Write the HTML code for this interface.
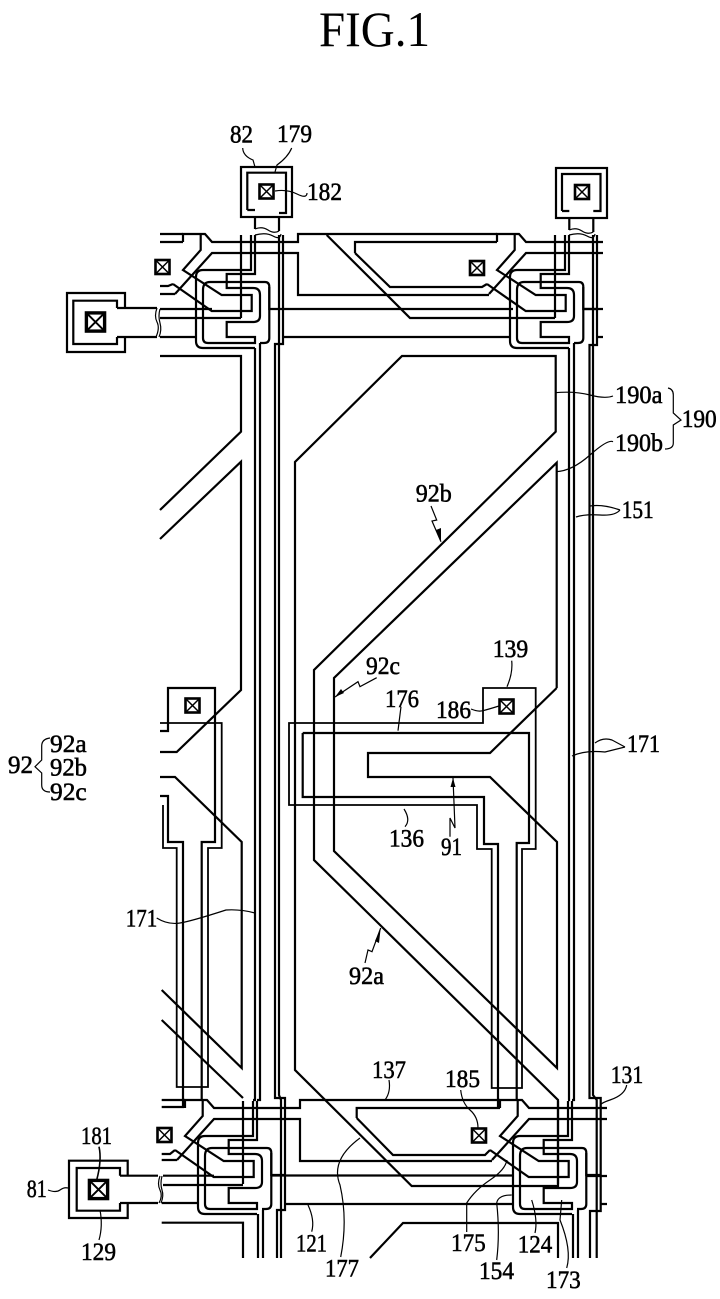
<!DOCTYPE html>
<html><head><meta charset="utf-8"><style>
html,body{margin:0;padding:0;background:#fff}
svg{display:block}
.l{fill:none;stroke:#000;stroke-width:2.2;stroke-linejoin:miter}
.t{fill:none;stroke:#000;stroke-width:1.2}
text{font-family:"Liberation Serif",serif;font-size:25px;fill:#000;stroke:#000;stroke-width:.55}
</style></head><body>
<svg xmlns="http://www.w3.org/2000/svg" width="720" height="1299" viewBox="0 0 720 1299">
<defs>
<g id="tft" class="l">
<path d="M241,235V318"/>
<path d="M251,235V270H203Q196,270 196,277V341Q196,348 203,348H255"/>
<path d="M255,235V274H226.7V288H253Q260,288 260,295V316Q260,322 253,322H226.7V337H255V343H208Q203,343 203,338V290Q203,282 210,282H265Q269.3,282 269.3,287V338Q269.3,343 264,343H260"/>
<path d="M200.7,234V250L183,270L221.7,295H251.7V311H211.7L173,284"/>
<path d="M175,294L212,253H283"/>
<path d="M183,242V234H205L212,242H283"/>
<path d="M269.3,287V309H283"/>
</g>
<g id="sq"><rect x="-7" y="-7" width="14" height="14" fill="none" stroke="#000" stroke-width="2.6"/><path d="M-7,-7L7,7M7,-7L-7,7" stroke="#000" stroke-width="1.5"/></g>
</defs>
<rect width="720" height="1299" fill="#fff"/>
<text x="319" y="46" style="font-size:50px;stroke-width:0" textLength="111" lengthAdjust="spacingAndGlyphs">FIG.1</text>

<!-- TFT clusters -->
<use href="#tft"/>
<use href="#tft" transform="translate(314,0)"/>
<use href="#tft" transform="translate(2,866)"/>
<use href="#tft" transform="translate(317,866)"/>

<g class="l">
<!-- top pads -->
<rect x="241" y="167" width="51" height="50"/>
<path d="M255,217V229M279,217V231M247.3,210V172.7H286V213H279M247.3,210H255"/>
<rect x="556" y="168" width="51" height="50"/>
<path d="M569.3,218V230M593.3,218V232M562,211V174H600.5V211H593.3M562,211H569.3"/>
<!-- left pad upper -->
<path d="M125,308V293H67V352H125V337"/>
<path d="M117,308V300.7H73.3V344H117V337"/>
<path d="M117,308H157M117,337H157"/>
<!-- left pad lower -->
<path d="M127.7,1175V1160.7H69V1218H127.7V1203"/>
<path d="M120,1175.7V1168H76.7V1210.7H120V1203"/>
<path d="M120,1175.7H158M120,1203H158"/>

<!-- columns left -->
<path d="M255,348V1100H253M260,343V1100H257"/>
<path d="M283,235V344H275V1098H285V1210H277V1258"/>
<path d="M279,235V346V1095L281,1100V1258"/>
<path d="M258,1214V1258M263,1210V1258"/>
<!-- columns right -->
<path d="M569,348V1100H568M574,343V1100H572"/>
<path d="M597,235V345H589.5V1098H600.7V1211H590V1258"/>
<path d="M593,235V346V1095L596.7,1100V1258"/>
<path d="M573,1214V1258M578,1210V1258"/>

<!-- top row -->
<path d="M160,234H183M160,242H183"/>
<path d="M283,242H298V234H497"/>
<path d="M283,253H298V295H489"/>
<path d="M355,253V242H497"/>
<path d="M355,253L390,287H482L487,284"/>
<path d="M326.7,235L410,318H555"/>
<path d="M597,242H603M597,253H603"/>
<path d="M160,286H168L173,284M160,294H175"/>
<path d="M241,318H160M160,309H212"/>
<path d="M283,309H513M583,309H603"/>
<path d="M160,337H196M283,337H510M597,337H603"/>
<path d="M160,356H241V431.7L160,510"/>
<path d="M160,539L241,461.7V690L176.7,752H160"/>
<!-- bottom row -->
<path d="M285,1108H300V1100H500M285,1119H300V1161H492"/>
<path d="M356.7,1118V1108H500"/>
<path d="M356.7,1118L393,1155H485L490,1150"/>
<path d="M600,1108H607M600,1119H607"/>
<path d="M161.7,1100H185"/>
<path d="M161.7,1154H170L175,1150M161.7,1160H177"/>
<path d="M163,1185H243M163,1175.7H214"/>
<path d="M271,1175.5H512M586,1176H607"/>
<path d="M285,1204H513M600,1204H607M161.7,1203H198"/>
<path d="M161.7,1222.7H243V1258"/>
<path d="M370,1258L403,1223H558V1258"/>

<!-- neighbor left -->
<path d="M160,731H168V688H215V842H201.7V1100"/>
<path d="M160,723H221.7V848H208V1087H176.7V848H163V805" stroke-width="1.8"/>
<path d="M160,796H168V842H183V1107H161.7"/>
<path d="M160,777H175L241.7,842V1068L161.7,990"/>
<path d="M161.7,1020L243,1098"/>

<!-- centre pixel electrode -->
<path d="M402,356H555.7V431.7L314,670V860L558,1100V1186H411.7L295,1070V462L402,356Z"/>
<path d="M556.7,688V462.7L334,678V851L557,1068V842L490,777H368V753H490L556.7,688"/>
<!-- storage -->
<path d="M535.7,688V849H522V1088H491.7V849H477V805H289V723H483V688H535.7Z" stroke-width="1.8"/>
<path d="M302.7,733H529V843H516.7V1100M498,1108V844H484V797H302.7V733"/>
</g>

<!-- contacts -->
<use href="#sq" transform="translate(266.5,191.5)"/>
<use href="#sq" transform="translate(582,192)"/>
<use href="#sq" transform="translate(162.5,267)"/>
<use href="#sq" transform="translate(477,268)"/>
<use href="#sq" transform="translate(192.5,705.5)"/>
<use href="#sq" transform="translate(506.5,706.5)"/>
<use href="#sq" transform="translate(164.5,1135)"/>
<use href="#sq" transform="translate(479,1135.5)"/>
<use href="#sq" transform="translate(95.5,322) scale(1.3)"/>
<use href="#sq" transform="translate(98.5,1189.5) scale(1.3)"/>

<!-- wave breaks & leaders -->
<g class="t">
<path d="M255,229Q262,226 268,230T279,231M255,235Q266,232 273,236T281,234"/>
<path d="M569.3,230Q576,227 582,231T593.3,232M569,235Q580,232 587,236T595,234"/>
<path d="M157,308Q154,316 157,322T156,337M160,309Q158,316 160,323T159,337"/>
<path d="M160,1176Q157,1184 160,1190T159,1203M162,1176Q160,1184 162,1190T161,1203"/>
<path d="M242.7,148Q243,156 253,160L255,167"/>
<path d="M291.7,148Q288,157 277,165L275,172"/>
<path d="M275,191Q287,189 297,194T307,193"/>
<path d="M555,392.7Q575,391 590,395T613,396"/>
<path d="M556,471.7Q572,471 590,455T613,441.7"/>
<path d="M590,506Q603,504 620,510M576,517Q585,514 600,515T620,510"/>
<path d="M668,388Q673.3,389 673.3,395V413L681,420L673.3,425V443Q673.3,449 665,449"/>
<path d="M431,506L436.7,520L432,521L441,541.7"/>
<path d="M376.7,677.7L360,686.7L358,681.7L335,697"/>
<path d="M401,706.7L398,730.7"/>
<path d="M471,709Q478,712 483,710.7T499,706"/>
<path d="M511.7,660.7Q513,673 507,686.7"/>
<path d="M404,809Q411,820 405,826.7"/>
<path d="M450,836.7V818L455,828L453,778"/>
<path d="M365,963L368,950L372,951.7L380.7,928"/>
<path d="M572,756Q585,750 605,752L625,747M595,743Q603,737 612,740L625,747"/>
<path d="M156.7,918Q168,925 180,923T226,910Q240,909 255,913"/>
<path d="M50,738Q41.7,739 41.7,746V760L35,766.7L41.7,773V785Q41.7,792 50,792"/>
<path d="M389,1080Q391,1092 385,1100"/>
<path d="M460.7,1090Q462,1103 470,1110T478,1128"/>
<path d="M626.7,1085Q625,1095 610,1100T603,1108"/>
<path d="M466.7,1232V1203Q475,1190 490,1180T507,1160"/>
<path d="M535,1233Q538,1220 531.7,1200"/>
<path d="M496.7,1260Q500,1233 496.7,1203Q498,1195 511.7,1195"/>
<path d="M566.7,1268Q572,1250 560,1220L561.7,1200"/>
<path d="M340.7,1257Q348,1220 340,1185Q330,1160 360,1138"/>
<path d="M311.7,1231.7Q315,1220 308,1205"/>
<path d="M48,1190Q56,1193 60,1190T68,1188"/>
<path d="M99,1146.7Q102,1160 96.7,1180" stroke-width="1.6"/>
<path d="M100,1210Q103,1226 99,1240"/>
</g>
<path d="M453,778L450.5,787H455.5Z"/>
<path d="M335,697L344,693L341,689Z"/>
<path d="M441,541.7L436,530L441,528Z"/>
<path d="M380.7,928L375,941L379,943Z"/>

<!-- labels -->
<text x="230" y="142.7" textLength="23" lengthAdjust="spacingAndGlyphs">82</text>
<text x="277" y="142" textLength="35" lengthAdjust="spacingAndGlyphs">179</text>
<text x="307" y="200" textLength="35" lengthAdjust="spacingAndGlyphs">182</text>
<text x="615" y="403" textLength="47.5" lengthAdjust="spacingAndGlyphs">190a</text>
<text x="681.7" y="427" textLength="35" lengthAdjust="spacingAndGlyphs">190</text>
<text x="615" y="451" textLength="48" lengthAdjust="spacingAndGlyphs">190b</text>
<text x="621.7" y="518" textLength="32" lengthAdjust="spacingAndGlyphs">151</text>
<text x="415.7" y="501.7" textLength="36" lengthAdjust="spacingAndGlyphs">92b</text>
<text x="366" y="674" textLength="34" lengthAdjust="spacingAndGlyphs">92c</text>
<text x="492.7" y="657" textLength="35.5" lengthAdjust="spacingAndGlyphs">139</text>
<text x="385" y="707" textLength="34" lengthAdjust="spacingAndGlyphs">176</text>
<text x="436" y="718" textLength="35" lengthAdjust="spacingAndGlyphs">186</text>
<text x="627" y="752" textLength="33" lengthAdjust="spacingAndGlyphs">171</text>
<text x="389" y="846.7" textLength="35" lengthAdjust="spacingAndGlyphs">136</text>
<text x="441" y="855" textLength="21" lengthAdjust="spacingAndGlyphs">91</text>
<text x="349" y="984" textLength="35" lengthAdjust="spacingAndGlyphs">92a</text>
<text x="125.7" y="926.7" textLength="31.5" lengthAdjust="spacingAndGlyphs">171</text>
<text x="8" y="773" textLength="25" lengthAdjust="spacingAndGlyphs">92</text>
<text x="50" y="752" textLength="36.7" lengthAdjust="spacingAndGlyphs">92a</text>
<text x="50" y="775.7" textLength="37" lengthAdjust="spacingAndGlyphs">92b</text>
<text x="50" y="800" textLength="36.7" lengthAdjust="spacingAndGlyphs">92c</text>
<text x="372" y="1078" textLength="34" lengthAdjust="spacingAndGlyphs">137</text>
<text x="445" y="1087" textLength="35" lengthAdjust="spacingAndGlyphs">185</text>
<text x="610.7" y="1083" textLength="32.5" lengthAdjust="spacingAndGlyphs">131</text>
<text x="81" y="1144" textLength="31" lengthAdjust="spacingAndGlyphs">181</text>
<text x="26.7" y="1197" textLength="20" lengthAdjust="spacingAndGlyphs">81</text>
<text x="81" y="1260" textLength="35" lengthAdjust="spacingAndGlyphs">129</text>
<text x="296" y="1251.7" textLength="31" lengthAdjust="spacingAndGlyphs">121</text>
<text x="325" y="1276.7" textLength="34" lengthAdjust="spacingAndGlyphs">177</text>
<text x="451" y="1251" textLength="34.7" lengthAdjust="spacingAndGlyphs">175</text>
<text x="517.7" y="1252.7" textLength="34.5" lengthAdjust="spacingAndGlyphs">124</text>
<text x="479" y="1279" textLength="35" lengthAdjust="spacingAndGlyphs">154</text>
<text x="546" y="1288" textLength="34.7" lengthAdjust="spacingAndGlyphs">173</text>
</svg>
</body></html>
